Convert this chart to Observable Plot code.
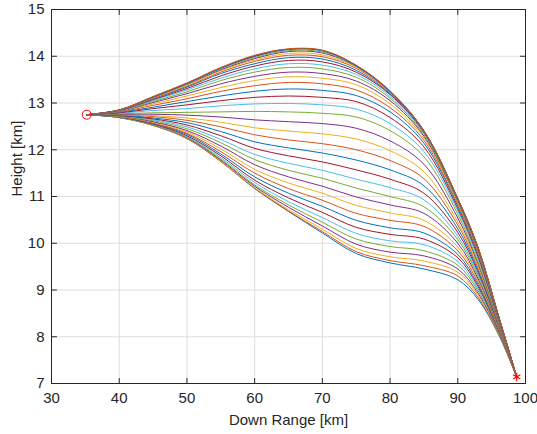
<!DOCTYPE html>
<html><head><meta charset="utf-8">
<script src="https://cdn.jsdelivr.net/npm/d3@7"></script>
<script src="https://cdn.jsdelivr.net/npm/@observablehq/plot@0.6"></script>
<style>body{margin:0;background:#fff}#chart{width:537px;height:434px}</style>
</head><body><div id="chart"></div>
<script>
// Down-range stations (km) at which the heights of the 37 trajectories were read
const downRange = [35.2, 40, 45, 50, 55, 60, 65, 70, 75, 80, 85, 90, 93, 96, 98.7];
const launchHeight = 12.75;   // common start (red circle)
const impactHeight = 7.14;    // common end (red star)
// Heights (km) of trajectories 1..37 at each station
const heightAt40 = [12.69,12.69,12.69,12.69,12.69,12.70,12.70,12.70,12.71,12.71,12.72,12.72,12.73,12.73,12.74,12.75,12.75,12.76,12.77,12.78,12.79,12.80,12.81,12.82,12.82,12.83,12.83,12.84,12.84,12.84,12.85,12.85,12.85,12.85,12.85,12.85,12.85];
const heightAt45 = [12.52,12.52,12.52,12.53,12.53,12.54,12.55,12.56,12.57,12.59,12.60,12.62,12.64,12.66,12.68,12.71,12.73,12.76,12.79,12.84,12.88,12.91,12.95,12.98,13.01,13.03,13.05,13.07,13.09,13.10,13.11,13.12,13.12,13.13,13.13,13.13,13.14];
const heightAt50 = [12.24,12.24,12.25,12.26,12.27,12.28,12.30,12.33,12.35,12.38,12.41,12.45,12.49,12.53,12.58,12.63,12.68,12.74,12.80,12.88,12.96,13.03,13.09,13.15,13.20,13.24,13.28,13.31,13.34,13.36,13.38,13.40,13.41,13.41,13.42,13.42,13.43];
const heightAt55 = [11.75,11.75,11.76,11.78,11.80,11.83,11.87,11.91,11.96,12.02,12.08,12.15,12.22,12.30,12.39,12.49,12.59,12.70,12.81,12.94,13.05,13.15,13.25,13.33,13.41,13.48,13.53,13.58,13.63,13.66,13.69,13.71,13.73,13.74,13.75,13.75,13.76];
const heightAt60 = [11.17,11.18,11.19,11.22,11.25,11.30,11.35,11.42,11.50,11.58,11.68,11.79,11.90,12.03,12.17,12.32,12.47,12.64,12.82,12.98,13.12,13.25,13.37,13.48,13.57,13.66,13.73,13.79,13.84,13.89,13.92,13.95,13.97,13.99,14.00,14.01,14.02];
const heightAt65 = [10.68,10.69,10.72,10.77,10.82,10.89,10.97,11.07,11.17,11.29,11.42,11.56,11.71,11.87,12.04,12.21,12.40,12.60,12.81,12.99,13.15,13.30,13.44,13.56,13.66,13.76,13.84,13.91,13.97,14.02,14.06,14.10,14.12,14.14,14.15,14.15,14.16];
const heightAt70 = [10.22,10.25,10.30,10.37,10.45,10.55,10.66,10.79,10.92,11.07,11.22,11.39,11.56,11.74,11.93,12.13,12.34,12.56,12.78,12.96,13.12,13.27,13.41,13.53,13.63,13.73,13.81,13.88,13.94,13.99,14.03,14.07,14.09,14.11,14.12,14.12,14.13];
const heightAt75 = [9.78,9.82,9.89,9.98,10.09,10.21,10.34,10.49,10.64,10.81,10.99,11.18,11.37,11.57,11.78,12.00,12.23,12.46,12.70,12.87,13.03,13.16,13.28,13.39,13.47,13.55,13.61,13.66,13.70,13.74,13.76,13.78,13.79,13.79,13.80,13.80,13.81];
const heightAt80 = [9.58,9.63,9.71,9.81,9.93,10.05,10.19,10.33,10.49,10.65,10.82,11.00,11.19,11.37,11.57,11.77,11.98,12.19,12.41,12.56,12.69,12.81,12.90,12.98,13.05,13.10,13.14,13.18,13.20,13.22,13.23,13.24,13.25,13.25,13.25,13.25,13.26];
const heightAt85 = [9.45,9.52,9.62,9.73,9.84,9.97,10.09,10.22,10.36,10.49,10.64,10.78,10.93,11.07,11.23,11.38,11.53,11.69,11.85,11.96,12.06,12.14,12.20,12.25,12.29,12.32,12.35,12.37,12.38,12.39,12.39,12.40,12.40,12.40,12.40,12.40,12.41];
const heightAt90 = [9.22,9.30,9.38,9.45,9.53,9.61,9.69,9.76,9.84,9.92,10.00,10.08,10.15,10.23,10.31,10.39,10.46,10.54,10.62,10.69,10.74,10.79,10.83,10.86,10.89,10.90,10.92,10.93,10.94,10.94,10.95,10.95,10.95,10.95,10.95,10.95,10.96];
const heightAt93 = [8.80,8.84,8.89,8.93,8.98,9.02,9.07,9.11,9.16,9.20,9.24,9.29,9.33,9.38,9.42,9.47,9.51,9.56,9.60,9.66,9.71,9.76,9.79,9.82,9.84,9.86,9.87,9.88,9.89,9.89,9.90,9.90,9.90,9.90,9.90,9.90,9.91];
const heightAt96 = [8.05,8.07,8.08,8.10,8.11,8.13,8.14,8.16,8.17,8.19,8.21,8.22,8.24,8.25,8.27,8.28,8.30,8.31,8.33,8.36,8.38,8.39,8.41,8.42,8.43,8.43,8.44,8.44,8.44,8.45,8.45,8.45,8.45,8.45,8.45,8.45,8.46];
const lineColors = ["#0072BD","#D95319","#EDB120","#7E2F8E","#77AC30","#4DBEEE","#A2142F"];
const xTicks = [30, 40, 50, 60, 70, 80, 90, 100];
const yTicks = [7, 8, 9, 10, 11, 12, 13, 14, 15];

const stations = [null, heightAt40, heightAt45, heightAt50, heightAt55, heightAt60, heightAt65,
  heightAt70, heightAt75, heightAt80, heightAt85, heightAt90, heightAt93, heightAt96, null];
const nCurves = heightAt40.length;
const rows = [];
for (let k = 0; k < nCurves; k++) {
  downRange.forEach((r, j) => {
    const h = j === 0 ? launchHeight : j === downRange.length - 1 ? impactHeight : stations[j][k];
    rows.push({curve: k, range: r, height: h, color: lineColors[k % lineColors.length]});
  });
}
const launch = [{range: downRange[0], height: launchHeight}];
const impact = [{range: downRange[downRange.length - 1], height: impactHeight}];

const ink = "#262626";
const tickShape = {draw(context, l) { context.moveTo(0, 0); context.lineTo(0, -l); }};
const inTicks = (data, channel, anchor, rotate) =>
  Plot.vector(data, {[channel]: d => d, frameAnchor: anchor, rotate, length: 5, anchor: "start",
    shape: tickShape, stroke: ink, strokeWidth: 1});

const chart = Plot.plot({
  width: 537, height: 434,
  marginLeft: 51, marginRight: 12, marginTop: 9, marginBottom: 51,
  style: {fontFamily: "'Liberation Sans', Arial, Helvetica, sans-serif", fontSize: "15px", color: ink, background: "#fff", overflow: "visible"},
  x: {domain: [30, 100]},
  y: {domain: [7, 15]},
  marks: [
    Plot.gridX(xTicks, {stroke: "#dedede", strokeOpacity: 1}),
    Plot.gridY(yTicks, {stroke: "#dedede", strokeOpacity: 1}),
    Plot.line(rows, {x: "range", y: "height", z: "curve", stroke: "color", strokeWidth: 1, curve: "catmull-rom"}),
    Plot.frame({stroke: ink, strokeWidth: 1}),
    inTicks(xTicks, "x", "bottom", 0),
    inTicks(xTicks, "x", "top", 180),
    inTicks(yTicks, "y", "left", 90),
    inTicks(yTicks, "y", "right", -90),
    Plot.axisX(xTicks, {tickSize: 0, tickPadding: 9, fontSize: 15, label: null, fill: ink}),
    Plot.axisY(yTicks, {tickSize: 0, tickPadding: 7, fontSize: 15, label: null, fill: ink}),
    Plot.text(["Down Range [km]"], {text: d => d, frameAnchor: "bottom", dy: 37, lineAnchor: "middle", fontSize: 15, fill: ink}),
    Plot.text(["Height [km]"], {text: d => d, frameAnchor: "left", dx: -34, rotate: -90, lineAnchor: "middle", fontSize: 15, fill: ink}),
    Plot.dot(launch, {x: "range", y: "height", r: 4.5, stroke: "#ff0000", strokeWidth: 1, symbol: "circle"}),
    Plot.dot(impact, {x: "range", y: "height", r: 4, stroke: "#ff0000", strokeWidth: 1.2, symbol: "asterisk"})
  ]
});
document.getElementById("chart").appendChild(chart);
</script>
</body></html>
